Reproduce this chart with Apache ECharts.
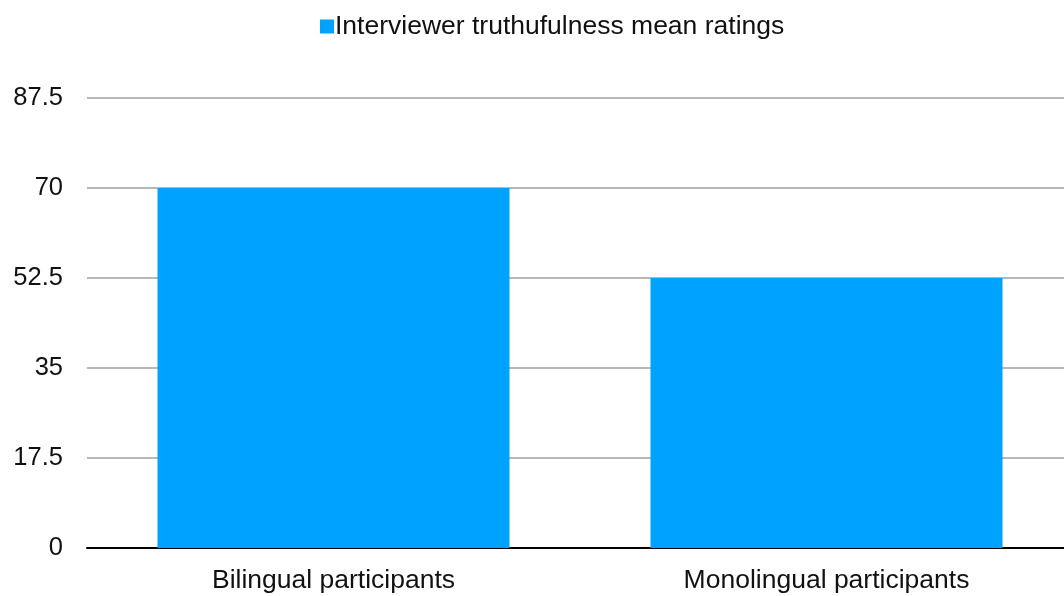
<!DOCTYPE html>
<html>
<head>
<meta charset="utf-8">
<script src="https://cdn.jsdelivr.net/npm/echarts@6/dist/echarts.min.js"></script>
<style>
  html, body { margin: 0; padding: 0; background: #fff; overflow: hidden; }
  /* plot area runs past the right edge of the window, as in the reference */
  #chart { width: 1073px; height: 596px; }
</style>
</head>
<body>
<div id="chart"></div>
<script>
// data
var categories = ['Bilingual participants', 'Monolingual participants']
var seriesName = 'Interviewer truthufulness mean ratings'
var meanRatings = [70, 52.5]
var yTicks = [0, 17.5, 35, 52.5, 70, 87.5]

var myChart = echarts.init(document.getElementById('chart'))

var option = {
  animation: false,
  textStyle: { fontFamily: 'Liberation Sans, Arial, sans-serif' },
  legend: {
    top: 8,
    left: 315,
    itemWidth: 14,
    itemHeight: 14,
    itemGap: 6,
    icon: 'rect',
    textStyle: { fontSize: 26.5, color: '#111', padding: [0, 0, 0, -4] },
    data: [seriesName]
  },
  grid: {
    left: 87,
    right: 0,
    top: 98,
    bottom: 48,
    containLabel: false
  },
  xAxis: {
    type: 'category',
    data: categories,
    axisTick: { show: false },
    axisLine: { lineStyle: { color: '#000', width: 2 } },
    axisLabel: { fontSize: 26.5, color: '#111', margin: 19 }
  },
  yAxis: {
    type: 'value',
    min: yTicks[0],
    max: yTicks[yTicks.length - 1],
    interval: 17.5,
    axisLine: { show: false },
    axisTick: { show: false },
    axisLabel: { fontSize: 25.5, color: '#111', margin: 24 },
    splitLine: { lineStyle: { color: '#b7b7b7', width: 2 } }
  },
  series: [{
    name: seriesName,
    type: 'bar',
    data: meanRatings,
    barWidth: 352,
    itemStyle: { color: '#00a2ff' }
  }]
}

myChart.setOption(option)
</script>
</body>
</html>
